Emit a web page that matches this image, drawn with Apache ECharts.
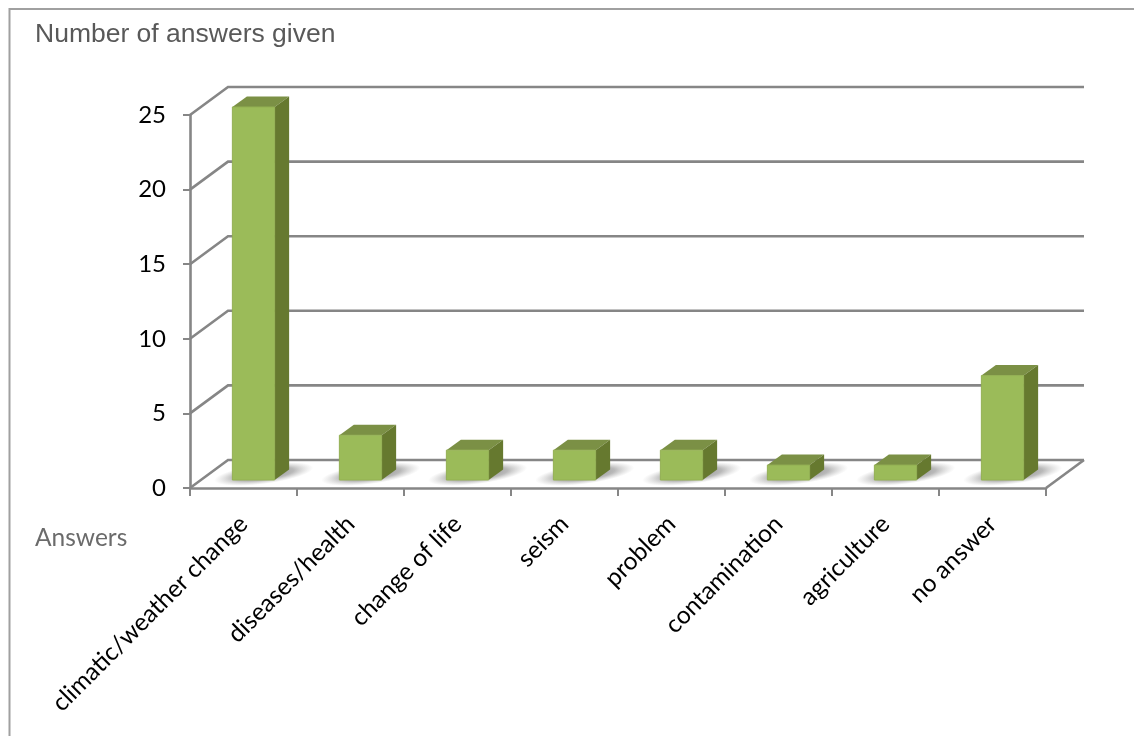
<!DOCTYPE html>
<html><head><meta charset="utf-8">
<style>html,body{margin:0;padding:0;background:#fff}#c{width:1134px;height:736px}</style>
<script src="https://cdn.jsdelivr.net/npm/echarts@6/dist/echarts.min.js"></script>
</head><body><div id="c"></div>
<script>
const categories = ['climatic/weather change','diseases/health','change of life','seism','problem','contamination','agriculture','no answer'];
const answers = [25,3,2,2,2,1,1,7];
const wallTicks = [0,5,10,15,20,25];

const WALL_DX = 38, WALL_DY = -28;
const FRONT = '#9BBB59', SIDE = '#66792F', TOP = '#7B9045', GRID = '#868686';
const BAR_FRACTION = 0.395, BAR_DX = 10, BAR_DY = -8, DEPTH_X = 14.5, DEPTH_Y = -10.5;

function renderWall(params, api) {
  const v = api.value(1);
  const cs = params.coordSys;
  const y = api.coord([0, v])[1];
  const x0 = cs.x, x1 = cs.x + cs.width;
  const style = { stroke: GRID, lineWidth: 2.6, fill: null };
  const children = [
    { type:'polyline', shape:{ points:[[x0,y],[x0+WALL_DX,y+WALL_DY],[x1+WALL_DX,y+WALL_DY]] }, style }
  ];
  if (v === 0) children.push({ type:'line', shape:{ x1:x1, y1:y, x2:x1+WALL_DX, y2:y+WALL_DY }, style });
  return { type:'group', children };
}

function renderBar(params, api) {
  const i = api.value(0), v = api.value(1);
  const c = api.coord([i, v]), b = api.coord([i, 0]);
  const w = api.size([1, 0])[0] * BAR_FRACTION;
  const l = c[0] - w/2 + BAR_DX, r = l + w;
  const t = c[1] + BAR_DY, base = b[1] + BAR_DY;
  const dx = DEPTH_X, dy = DEPTH_Y;
  const soft = {
    type:'radial', x:0.5, y:0.5, r:0.5,
    colorStops:[{offset:0,color:'rgba(90,90,90,0.75)'},{offset:0.6,color:'rgba(115,115,115,0.5)'},{offset:1,color:'rgba(160,160,160,0)'}]
  };
  return { type:'group', children:[
    { type:'circle', x:(l+r+dx)/2+3, y:base-6, scaleX:5, scaleY:1, rotation:0.13,
      shape:{ cx:0, cy:0, r:10 }, style:{ fill:soft } },
    { type:'polygon', shape:{ points:[[l,t],[l+dx,t+dy],[r+dx,t+dy],[r,t]] }, style:{ fill:TOP } },
    { type:'polygon', shape:{ points:[[r,t],[r+dx,t+dy],[r+dx,base+dy],[r,base]] }, style:{ fill:SIDE } },
    { type:'rect', shape:{ x:l, y:t, width:w, height:base-t }, style:{ fill:FRONT, stroke:'#93B053', lineWidth:1 } }
  ]};
}

const chart = echarts.init(document.getElementById('c'), null, { renderer:'canvas' });
chart.setOption({
  animation:false,
  backgroundColor:'#fff',
  title:[
    { text:'Number of answers given', left:35, top:21, padding:0,
      textStyle:{ fontFamily:'Liberation Sans', fontSize:26.5, fontWeight:'normal', color:'#595959' } },
    { text:'Answers', left:35, top:526, padding:0,
      textStyle:{ fontFamily:'Lato', fontSize:24.5, fontWeight:'normal', color:'#6b6b6b' } }
  ],
  graphic:[{ type:'polyline', silent:true, z:-1,
    shape:{ points:[[9.5,740],[9.5,9],[1140,9]] },
    style:{ stroke:'#A0A0A0', lineWidth:2, fill:null } }],
  grid:{ left:190, top:115, width:856, height:373, containLabel:false },
  xAxis:{ type:'category', data:categories, boundaryGap:true,
    axisLine:{ show:true, lineStyle:{ color:GRID, width:2.6 } },
    axisTick:{ show:true, length:8, alignWithLabel:false, lineStyle:{ color:GRID, width:2 } },
    axisLabel:{ interval:0, rotate:45, margin:32, fontFamily:'Lato', fontSize:24.5, color:'#000' },
    splitLine:{ show:false } },
  yAxis:{ type:'value', min:0, max:25, interval:5,
    axisLine:{ show:true, lineStyle:{ color:GRID, width:2.6 } },
    axisTick:{ show:true, length:7, lineStyle:{ color:GRID, width:2 } },
    axisLabel:{ margin:24, padding:[2,0,0,0], fontFamily:'Lato', fontSize:24, color:'#000' },
    splitLine:{ show:false } },
  series:[
    { type:'custom', name:'wall', silent:true, clip:false, z:1, renderItem:renderWall,
      encode:{ x:0, y:1 }, data:wallTicks.map(v => [0, v]) },
    { type:'custom', name:'Number of answers given', clip:false, z:3, renderItem:renderBar,
      encode:{ x:0, y:1 }, data:answers.map((v,i) => [i, v]) }
  ]
});
</script></body></html>
